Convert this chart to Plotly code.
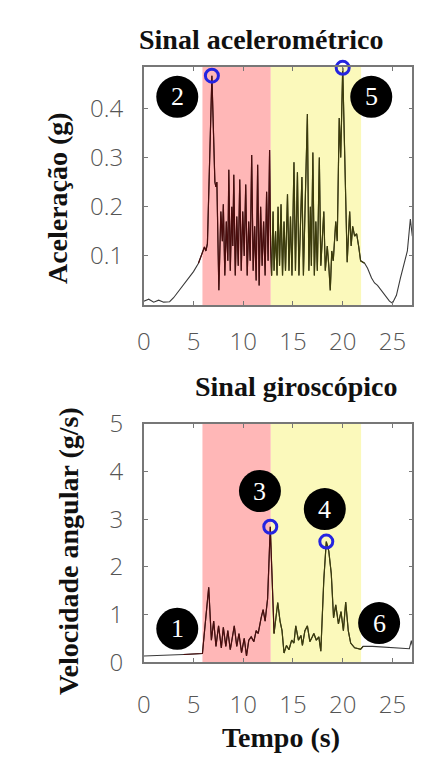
import plotly.graph_objects as go

# ---------------- data ----------------
acc_t = [0.0, 0.5, 1.0, 1.5, 2.0, 2.6, 3.0, 3.5, 4.0, 4.5, 5.0, 5.5, 5.9, 6.1, 6.25, 6.4,
         6.85, 7.15, 7.25, 7.35, 7.55, 7.75, 7.9, 8.0, 8.15, 8.3, 8.45, 8.55, 8.7, 8.85,
         8.95, 9.05, 9.2, 9.35, 9.5, 9.65, 9.8, 9.95, 10.1, 10.25, 10.4, 10.55, 10.7, 10.85,
         11.0, 11.15, 11.3, 11.45, 11.6, 11.75, 11.9, 12.05, 12.2, 12.35, 12.5, 12.65, 12.75,
         12.85, 13.0, 13.1, 13.25, 13.4, 13.5, 13.65, 13.8, 13.95, 14.1, 14.25, 14.45, 14.6,
         14.75, 14.9, 15.1, 15.25, 15.45, 15.6, 15.75, 15.9, 16.05, 16.2, 16.45, 16.6, 16.75,
         16.85, 17.0, 17.15, 17.3, 17.45, 17.65, 17.8, 17.95, 18.1, 18.25, 18.45, 18.6, 18.75,
         18.9, 19.05, 19.3, 19.45, 19.65, 19.8, 20.0, 20.2, 20.45, 20.6, 20.7, 20.85, 21.0,
         21.2, 21.4, 21.6, 21.8, 22.2, 22.5, 22.9, 23.2, 23.5, 23.9, 24.3, 24.7, 25.0, 25.4,
         25.8, 26.2, 26.5, 26.8, 27.0]
acc_g = [0.008, 0.012, 0.006, 0.010, 0.006, 0.007, 0.015, 0.028, 0.040, 0.055, 0.068, 0.085,
         0.105, 0.118, 0.110, 0.125, 0.466, 0.25, 0.24, 0.25, 0.03, 0.19, 0.13, 0.205, 0.06,
         0.17, 0.09, 0.275, 0.07, 0.20, 0.12, 0.265, 0.06, 0.18, 0.08, 0.255, 0.07, 0.19, 0.10,
         0.245, 0.06, 0.17, 0.09, 0.305, 0.07, 0.16, 0.05, 0.285, 0.04, 0.20, 0.08, 0.17, 0.06,
         0.23, 0.09, 0.315, 0.12, 0.06, 0.19, 0.07, 0.15, 0.06, 0.20, 0.08, 0.205, 0.06, 0.17,
         0.07, 0.225, 0.07, 0.18, 0.06, 0.29, 0.07, 0.27, 0.06, 0.16, 0.26, 0.06, 0.18, 0.388,
         0.07, 0.20, 0.08, 0.31, 0.06, 0.17, 0.07, 0.30, 0.08, 0.15, 0.19, 0.07, 0.12, 0.08,
         0.03, 0.11, 0.09, 0.17, 0.13, 0.38, 0.30, 0.482, 0.30, 0.087, 0.15, 0.19, 0.12, 0.16,
         0.14, 0.145, 0.12, 0.09, 0.085, 0.075, 0.055, 0.045, 0.040, 0.030, 0.020, 0.008, 0.004,
         0.020, 0.055, 0.09, 0.11, 0.175, 0.14]

gyr_t = [0.0, 2.0, 4.0, 5.9, 6.04, 6.53, 6.8, 7.03, 7.26, 7.52, 7.8, 8.0, 8.25, 8.45, 8.7,
         8.92, 9.1, 9.35, 9.57, 9.83, 10.1, 10.33, 10.56, 10.8, 11.07, 11.3, 11.5, 11.8, 12.0,
         12.2, 12.45, 12.72, 13.1, 13.47, 13.7, 13.9, 14.1, 14.35, 14.6, 14.87, 15.1, 15.28,
         15.55, 15.8, 15.95, 16.2, 16.45, 16.7, 16.95, 17.1, 17.35, 17.6, 17.8, 18.1, 18.35,
         18.6, 18.85, 19.08, 19.3, 19.57, 19.83, 20.07, 20.3, 20.56, 20.8, 21.2, 21.8, 22.05,
         23.0, 24.0, 25.0, 26.0, 26.7, 26.9, 27.0]
gyr_v = [0.13, 0.14, 0.16, 0.18, 0.5, 1.57, 0.46, 0.86, 0.33, 0.76, 0.30, 0.73, 0.33, 0.66,
         0.26, 0.53, 0.76, 0.33, 0.6, 0.2, 0.5, 0.13, 0.46, 0.53, 0.43, 0.66, 0.6, 0.93, 1.1,
         0.86, 1.33, 2.84, 0.6, 1.25, 0.86, 0.66, 0.19, 0.35, 0.26, 0.46, 0.4, 0.76, 0.46, 0.56,
         0.35, 0.66, 0.76, 0.43, 0.53, 0.6, 0.46, 0.53, 0.23, 1.73, 2.53, 2.33, 1.86, 0.93, 1.2,
         0.8, 1.06, 0.66, 1.26, 0.66, 0.4, 0.3, 0.27, 0.33, 0.33, 0.32, 0.31, 0.30, 0.28, 0.45,
         0.35]

phase_bounds = [5.9, 12.77, 21.85]

acc_ticks = [0.1, 0.2, 0.3, 0.4]
gyr_ticks = [0, 1, 2, 3, 4, 5]
time_ticks = [0, 5, 10, 15, 20, 25]

acc_labels = [("2", 3.37, 0.423), ("5", 22.87, 0.423)]
gyr_labels = [("1", 3.37, 0.70), ("3", 11.68, 3.59), ("4", 18.2, 3.21), ("6", 23.66, 0.82)]


def peak(ts, vs, lo, hi):
    idx = [i for i, t in enumerate(ts) if lo <= t <= hi]
    best = max(idx, key=lambda i: vs[i])
    return ts[best], vs[best]


def segment(ts, vs, lo, hi):
    idx = [i for i, t in enumerate(ts) if lo <= t <= hi]
    i0, i1 = max(idx[0] - 1, 0), min(idx[-1] + 1, len(ts) - 1)
    return ts[i0:i1 + 1], vs[i0:i1 + 1]


# ---------------- figure ----------------
W, H = 433, 769
fig = go.Figure()

COL_OUT = "#3a3a3a"
COL_RED = "#4a0c0c"
COL_YEL = "#3c3c0a"
RING = dict(symbol="circle-open", size=13, color="#2424e0", line=dict(width=3, color="#2424e0"))

for ts, vs, xa, ya in ((acc_t, acc_g, "x", "y"), (gyr_t, gyr_v, "x2", "y2")):
    fig.add_trace(go.Scatter(x=ts, y=vs, mode="lines", line=dict(color=COL_OUT, width=1.1),
                             xaxis=xa, yaxis=ya, showlegend=False, hoverinfo="skip"))
    sx, sy = segment(ts, vs, phase_bounds[0], phase_bounds[1])
    fig.add_trace(go.Scatter(x=sx, y=sy, mode="lines", line=dict(color=COL_RED, width=1.2),
                             xaxis=xa, yaxis=ya, showlegend=False, hoverinfo="skip"))
    sx, sy = segment(ts, vs, phase_bounds[1], phase_bounds[2])
    sx, sy = sx[1:], sy[1:]
    fig.add_trace(go.Scatter(x=sx, y=sy, mode="lines", line=dict(color=COL_YEL, width=1.2),
                             xaxis=xa, yaxis=ya, showlegend=False, hoverinfo="skip"))
    pk = [peak(ts, vs, phase_bounds[0], phase_bounds[1]), peak(ts, vs, phase_bounds[1], phase_bounds[2])]
    fig.add_trace(go.Scatter(x=[p[0] for p in pk], y=[p[1] for p in pk], mode="markers",
                             marker=RING, xaxis=xa, yaxis=ya, cliponaxis=False, showlegend=False))

TICKFONT = dict(family="Open Sans", size=24, color="#555555", weight=300)
TITLEFONT = dict(family="Liberation Serif", size=28, color="#111111", weight="bold")

x_dom = [139 / W, 412 / W]
y1_dom = [1 - 300 / H, 1 - 51 / H]
y2_dom = [1 - 673 / H, 1 - 424 / H]

common_axis = dict(showline=True, linecolor="#777777", linewidth=1.5, mirror="ticks",
                   ticks="inside", ticklen=4, tickcolor="#777777", tickwidth=1,
                   showgrid=False, zeroline=False, tickfont=TICKFONT)

fig.update_layout(
    width=W, height=H,
    margin=dict(l=0, r=0, t=0, b=0),
    paper_bgcolor="white", plot_bgcolor="white",
    xaxis=dict(domain=x_dom, anchor="y", range=[0, 27], tickvals=time_ticks,
               ticklabelstandoff=14, **common_axis),
    yaxis=dict(domain=y1_dom, anchor="x", range=[0, 0.484], tickvals=acc_ticks,
               ticktext=[f"{v:.1f}" for v in acc_ticks], ticklabelstandoff=14, **common_axis),
    xaxis2=dict(domain=x_dom, anchor="y2", range=[0, 27], tickvals=time_ticks,
                ticklabelstandoff=20, **common_axis),
    yaxis2=dict(domain=y2_dom, anchor="x2", range=[0, 5], tickvals=gyr_ticks,
                ticklabelstandoff=14, **common_axis),
)

shapes = []
for xr, yr in (("x", "y"), ("x2", "y2")):
    shapes.append(dict(type="rect", xref=xr, yref=yr + " domain", x0=phase_bounds[0], x1=phase_bounds[1],
                       y0=0, y1=1, fillcolor="#ffb7b7", line=dict(width=0), layer="below"))
    shapes.append(dict(type="rect", xref=xr, yref=yr + " domain", x0=phase_bounds[1], x1=phase_bounds[2],
                       y0=0, y1=1, fillcolor="#fbf9bb", line=dict(width=0), layer="below"))

annotations = []
for labels, xr, yr in ((acc_labels, "x", "y"), (gyr_labels, "x2", "y2")):
    for txt, lx, ly in labels:
        shapes.append(dict(type="circle", xref=xr, yref=yr, xsizemode="pixel", ysizemode="pixel",
                           xanchor=lx, yanchor=ly, x0=-21, x1=21, y0=-21, y1=21,
                           fillcolor="black", line=dict(width=0), layer="above"))
        annotations.append(dict(text=txt, x=lx, y=ly, xref=xr, yref=yr, showarrow=False,
                                font=dict(family="Liberation Serif", size=26, color="white"),
                                xanchor="center", yanchor="middle"))


def ptxt(text, px, py, angle=0):
    annotations.append(dict(text=text, x=px / W, y=1 - py / H, xref="paper", yref="paper",
                            showarrow=False, font=TITLEFONT, textangle=angle,
                            xanchor="center", yanchor="middle"))


ptxt("Sinal acelerométrico", 258, 22)
ptxt("Sinal giroscópico", 294, 385)
ptxt("Aceleração (g)", 52, 188, -90)
ptxt("Velocidade angular (g/s)", 62, 557, -90)
ptxt("Tempo (s)", 278, 752)

fig.update_layout(shapes=shapes, annotations=annotations)
fig.write_html("out.html")
